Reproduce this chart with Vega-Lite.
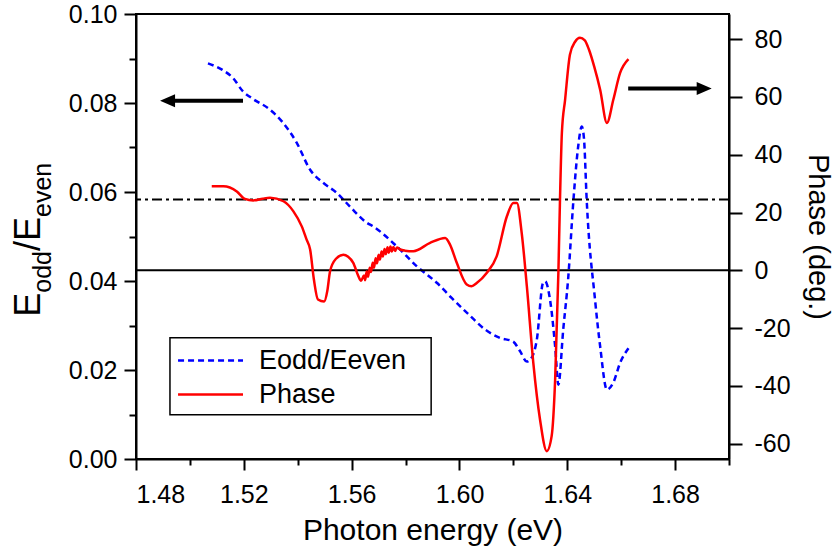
{
  "$schema": "https://vega.github.io/schema/vega-lite/v6.json",
  "width": 593,
  "height": 445,
  "autosize": {"type": "none"},
  "padding": {"left": 136, "top": 14, "right": 109, "bottom": 97},
  "background": "white",
  "config": {
    "view": {"stroke": "black", "strokeWidth": 2},
    "font": "Liberation Sans",
    "axis": {
      "grid": false, "domainColor": "black", "domainWidth": 2,
      "tickColor": "black", "tickWidth": 2,
      "labelColor": "black", "titleColor": "black",
      "labelFont": "Liberation Sans", "titleFont": "Liberation Sans",
      "labelFontSize": 25, "titleFontSize": 29, "titleFontWeight": "normal"
    }
  },
  "datasets": {
    "ratio": [
      {"E": 1.5067, "v": 0.0889},
      {"E": 1.5119, "v": 0.0875},
      {"E": 1.5160, "v": 0.0856},
      {"E": 1.5197, "v": 0.0826},
      {"E": 1.5229, "v": 0.0811},
      {"E": 1.5297, "v": 0.0785},
      {"E": 1.5345, "v": 0.0756},
      {"E": 1.5396, "v": 0.0711},
      {"E": 1.5446, "v": 0.0650},
      {"E": 1.5494, "v": 0.0621},
      {"E": 1.5545, "v": 0.0598},
      {"E": 1.5594, "v": 0.0567},
      {"E": 1.5656, "v": 0.0531},
      {"E": 1.5679, "v": 0.0523},
      {"E": 1.5767, "v": 0.0478},
      {"E": 1.5842, "v": 0.0433},
      {"E": 1.5916, "v": 0.0396},
      {"E": 1.5971, "v": 0.0362},
      {"E": 1.6039, "v": 0.0322},
      {"E": 1.6095, "v": 0.0291},
      {"E": 1.6151, "v": 0.0272},
      {"E": 1.6199, "v": 0.0264},
      {"E": 1.6225, "v": 0.0242},
      {"E": 1.6250, "v": 0.0219},
      {"E": 1.6262, "v": 0.0223},
      {"E": 1.6287, "v": 0.0268},
      {"E": 1.6310, "v": 0.0396},
      {"E": 1.6318, "v": 0.0399},
      {"E": 1.6336, "v": 0.0358},
      {"E": 1.6355, "v": 0.0253},
      {"E": 1.6367, "v": 0.0167},
      {"E": 1.6385, "v": 0.0291},
      {"E": 1.6403, "v": 0.0403},
      {"E": 1.6423, "v": 0.0583},
      {"E": 1.6440, "v": 0.0700},
      {"E": 1.6454, "v": 0.0747},
      {"E": 1.6462, "v": 0.0720},
      {"E": 1.6472, "v": 0.0583},
      {"E": 1.6503, "v": 0.0358},
      {"E": 1.6522, "v": 0.0253},
      {"E": 1.6547, "v": 0.0156},
      {"E": 1.6571, "v": 0.0172},
      {"E": 1.6596, "v": 0.0216},
      {"E": 1.6627, "v": 0.0249}
    ],
    "phase": [
      {"E": 1.5081, "p": 29.1},
      {"E": 1.5124, "p": 29.1},
      {"E": 1.5174, "p": 27.3},
      {"E": 1.5204, "p": 24.7},
      {"E": 1.5235, "p": 24.2},
      {"E": 1.5270, "p": 24.8},
      {"E": 1.5297, "p": 25.1},
      {"E": 1.5347, "p": 23.9},
      {"E": 1.5384, "p": 20.4},
      {"E": 1.5415, "p": 15.2},
      {"E": 1.5433, "p": 10.6},
      {"E": 1.5446, "p": 7.2},
      {"E": 1.5460, "p": -3.2},
      {"E": 1.5475, "p": -10.1},
      {"E": 1.5498, "p": -10.8},
      {"E": 1.5510, "p": -7.0},
      {"E": 1.5520, "p": -0.3},
      {"E": 1.5542, "p": 4.0},
      {"E": 1.5569, "p": 5.4},
      {"E": 1.5587, "p": 4.7},
      {"E": 1.5606, "p": 2.6},
      {"E": 1.5625, "p": -2.0},
      {"E": 1.5635, "p": -3.6},
      {"E": 1.5646, "p": -1.8},
      {"E": 1.5650, "p": -3.4},
      {"E": 1.5656, "p": -0.4},
      {"E": 1.5661, "p": -2.2},
      {"E": 1.5667, "p": 0.9},
      {"E": 1.5672, "p": -0.6},
      {"E": 1.5678, "p": 2.6},
      {"E": 1.5683, "p": 0.9},
      {"E": 1.5689, "p": 4.2},
      {"E": 1.5694, "p": 2.4},
      {"E": 1.5700, "p": 5.4},
      {"E": 1.5705, "p": 3.7},
      {"E": 1.5711, "p": 6.5},
      {"E": 1.5716, "p": 4.8},
      {"E": 1.5722, "p": 7.4},
      {"E": 1.5727, "p": 5.6},
      {"E": 1.5733, "p": 8.0},
      {"E": 1.5738, "p": 6.1},
      {"E": 1.5744, "p": 8.2},
      {"E": 1.5749, "p": 6.5},
      {"E": 1.5755, "p": 8.1},
      {"E": 1.5761, "p": 6.7},
      {"E": 1.5768, "p": 7.9},
      {"E": 1.5780, "p": 7.2},
      {"E": 1.5798, "p": 6.8},
      {"E": 1.5829, "p": 6.6},
      {"E": 1.5891, "p": 9.5},
      {"E": 1.5947, "p": 11.2},
      {"E": 1.5965, "p": 8.9},
      {"E": 1.5990, "p": 2.6},
      {"E": 1.6027, "p": -4.9},
      {"E": 1.6045, "p": -5.5},
      {"E": 1.6064, "p": -4.4},
      {"E": 1.6101, "p": -0.9},
      {"E": 1.6138, "p": 4.8},
      {"E": 1.6176, "p": 18.7},
      {"E": 1.6200, "p": 23.3},
      {"E": 1.6213, "p": 23.3},
      {"E": 1.6231, "p": 12.9},
      {"E": 1.6250, "p": -5.5},
      {"E": 1.6274, "p": -32.0},
      {"E": 1.6299, "p": -51.7},
      {"E": 1.6324, "p": -62.6},
      {"E": 1.6342, "p": -57.4},
      {"E": 1.6355, "p": -37.8},
      {"E": 1.6367, "p": -0.9},
      {"E": 1.6373, "p": 24.5},
      {"E": 1.6380, "p": 47.6},
      {"E": 1.6392, "p": 59.1},
      {"E": 1.6410, "p": 74.7},
      {"E": 1.6429, "p": 79.1},
      {"E": 1.6447, "p": 80.5},
      {"E": 1.6465, "p": 79.6},
      {"E": 1.6480, "p": 76.5},
      {"E": 1.6500, "p": 70.5},
      {"E": 1.6522, "p": 62.5},
      {"E": 1.6547, "p": 51.0},
      {"E": 1.6571, "p": 59.1},
      {"E": 1.6596, "p": 68.3},
      {"E": 1.6627, "p": 73.1}
    ]
  },
  "layer": [
    {
      "layer": [
        {
          "data": {"name": "ratio"},
          "mark": {"type": "line", "strokeWidth": 2.5, "color": "#0000ff", "strokeDash": [6, 4], "interpolate": "monotone"},
          "encoding": {
            "x": {"field": "E", "type": "quantitative",
              "scale": {"domain": [1.48, 1.70], "nice": false, "zero": false},
              "axis": {
                "values": [1.48, 1.50, 1.52, 1.54, 1.56, 1.58, 1.60, 1.62, 1.64, 1.66, 1.68, 1.70],
                "labelExpr": "round(datum.value*100) % 4 == 0 ? format(datum.value, '.2f') : ''",
                "tickSize": 11,
                "tickDash": {"condition": {"test": "round(datum.value*100) % 4 != 0", "value": [6, 30]}, "value": [1, 0]},
                "labelPadding": 12, "title": "Photon energy (eV)", "titleFontSize": 30, "titlePadding": 8
              }},
            "y": {"field": "v", "type": "quantitative",
              "scale": {"domain": [0, 0.10], "nice": false, "zero": false},
              "axis": {
                "orient": "left",
                "values": [0, 0.01, 0.02, 0.03, 0.04, 0.05, 0.06, 0.07, 0.08, 0.09, 0.10],
                "labelExpr": "round(datum.value*100) % 2 == 0 ? format(datum.value, '.2f') : ''",
                "tickSize": 12,
                "tickDash": {"condition": {"test": "round(datum.value*100) % 2 != 0", "value": [7, 30]}, "value": [1, 0]},
                "labelPadding": 7, "title": ""
              }}
          }
        },
        {
          "data": {"values": [{}]},
          "mark": {"type": "rule", "strokeWidth": 4, "color": "black"},
          "encoding": {
            "x": {"datum": 1.4917, "type": "quantitative"},
            "x2": {"datum": 1.5197},
            "y": {"datum": 0.0805, "type": "quantitative"}
          }
        },
        {
          "data": {"values": [{}]},
          "mark": {"type": "point", "shape": "M-1,0L1,-0.87L1,0.87Z", "size": 225, "filled": true, "color": "black", "opacity": 1},
          "encoding": {
            "x": {"datum": 1.4917, "type": "quantitative"},
            "y": {"datum": 0.0805, "type": "quantitative"}
          }
        },
        {
          "data": {"values": [{}]},
          "mark": {"type": "text", "angle": 270, "align": "left", "baseline": "alphabetic", "fontSize": 36, "font": "Liberation Sans", "color": "black", "dy": -96},
          "encoding": {
            "x": {"datum": 1.48, "type": "quantitative"},
            "y": {"datum": 0.03198, "type": "quantitative"},
            "text": {"value": "E"}
          }
        },
        {
          "data": {"values": [{}]},
          "mark": {"type": "text", "angle": 270, "align": "left", "baseline": "alphabetic", "fontSize": 25, "font": "Liberation Sans", "color": "black", "dy": -85},
          "encoding": {
            "x": {"datum": 1.48, "type": "quantitative"},
            "y": {"datum": 0.03737, "type": "quantitative"},
            "text": {"value": "odd"}
          }
        },
        {
          "data": {"values": [{}]},
          "mark": {"type": "text", "angle": 270, "align": "left", "baseline": "alphabetic", "fontSize": 36, "font": "Liberation Sans", "color": "black", "dy": -96},
          "encoding": {
            "x": {"datum": 1.48, "type": "quantitative"},
            "y": {"datum": 0.04674, "type": "quantitative"},
            "text": {"value": "/E"}
          }
        },
        {
          "data": {"values": [{}]},
          "mark": {"type": "text", "angle": 270, "align": "left", "baseline": "alphabetic", "fontSize": 25, "font": "Liberation Sans", "color": "black", "dy": -85},
          "encoding": {
            "x": {"datum": 1.48, "type": "quantitative"},
            "y": {"datum": 0.05438, "type": "quantitative"},
            "text": {"value": "even"}
          }
        },
        {
          "data": {"values": [{}]},
          "mark": {"type": "rect", "fill": "white", "stroke": "black", "strokeWidth": 1.5},
          "encoding": {
            "x": {"datum": 1.4926, "type": "quantitative"},
            "x2": {"datum": 1.5895},
            "y": {"datum": 0.02726, "type": "quantitative"},
            "y2": {"datum": 0.00996}
          }
        },
        {
          "data": {"values": [{}]},
          "mark": {"type": "rule", "strokeWidth": 2.5, "color": "#0000ff", "strokeDash": [6, 4]},
          "encoding": {
            "x": {"datum": 1.4956, "type": "quantitative"},
            "x2": {"datum": 1.5197},
            "y": {"datum": 0.02211, "type": "quantitative"}
          }
        },
        {
          "data": {"values": [{}]},
          "mark": {"type": "rule", "strokeWidth": 2.5, "color": "#ff0000"},
          "encoding": {
            "x": {"datum": 1.4956, "type": "quantitative"},
            "x2": {"datum": 1.5197},
            "y": {"datum": 0.01447, "type": "quantitative"}
          }
        },
        {
          "data": {"values": [{}]},
          "mark": {"type": "text", "align": "left", "baseline": "middle", "fontSize": 27, "font": "Liberation Sans", "color": "black"},
          "encoding": {
            "x": {"datum": 1.5256, "type": "quantitative"},
            "y": {"datum": 0.02211, "type": "quantitative"},
            "text": {"value": "Eodd/Eeven"}
          }
        },
        {
          "data": {"values": [{}]},
          "mark": {"type": "text", "align": "left", "baseline": "middle", "fontSize": 27, "font": "Liberation Sans", "color": "black"},
          "encoding": {
            "x": {"datum": 1.5256, "type": "quantitative"},
            "y": {"datum": 0.01447, "type": "quantitative"},
            "text": {"value": "Phase"}
          }
        }
      ]
    },
    {
      "layer": [
        {
          "data": {"values": [{}]},
          "mark": {"type": "rule", "strokeWidth": 2, "color": "black"},
          "encoding": {
            "y": {"datum": 0, "type": "quantitative", "scale": {"domain": [-65.3, 88.7], "nice": false, "zero": false}}
          }
        },
        {
          "data": {"values": [{}]},
          "mark": {"type": "rule", "strokeWidth": 2, "color": "black", "strokeDash": [10, 4, 3, 4]},
          "encoding": {
            "y": {"datum": 24.5, "type": "quantitative"}
          }
        },
        {
          "data": {"name": "phase"},
          "mark": {"type": "line", "strokeWidth": 2.5, "color": "#ff0000", "interpolate": "monotone"},
          "encoding": {
            "x": {"field": "E", "type": "quantitative"},
            "y": {"field": "p", "type": "quantitative",
              "scale": {"domain": [-65.3, 88.7], "nice": false, "zero": false},
              "axis": {
                "orient": "right",
                "values": [-60, -50, -40, -30, -20, -10, 0, 10, 20, 30, 40, 50, 60, 70, 80],
                "labelExpr": "datum.value % 20 == 0 ? '' + datum.value : ''",
                "tickSize": 13,
                "tickDash": {"condition": {"test": "datum.value % 20 != 0", "value": [7, 30]}, "value": [1, 0]},
                "labelPadding": 12, "title": "Phase (deg.)", "titlePadding": 12
              }}
          }
        },
        {
          "data": {"values": [{}]},
          "mark": {"type": "rule", "strokeWidth": 4, "color": "black"},
          "encoding": {
            "x": {"datum": 1.6626, "type": "quantitative"},
            "x2": {"datum": 1.6908},
            "y": {"datum": 62.9, "type": "quantitative"}
          }
        },
        {
          "data": {"values": [{}]},
          "mark": {"type": "point", "shape": "M1,0L-1,-0.87L-1,0.87Z", "size": 225, "filled": true, "color": "black", "opacity": 1},
          "encoding": {
            "x": {"datum": 1.6908, "type": "quantitative"},
            "y": {"datum": 62.9, "type": "quantitative"}
          }
        }
      ]
    }
  ],
  "resolve": {"scale": {"y": "independent"}}
}
